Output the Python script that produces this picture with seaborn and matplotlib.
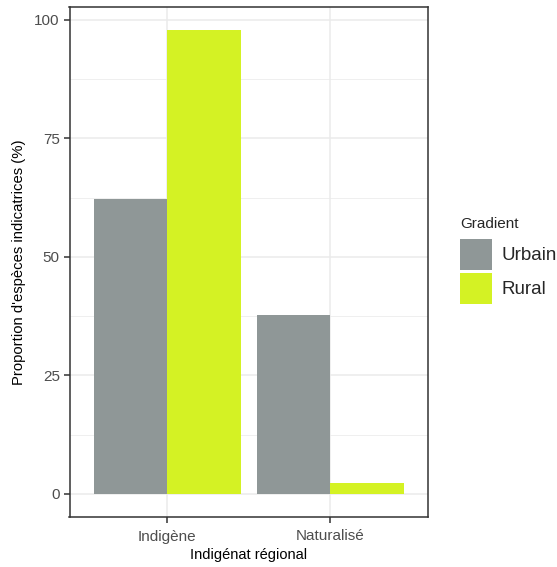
import matplotlib
matplotlib.use("Agg")
import matplotlib.pyplot as plt
import seaborn as sns
import pandas as pd
import numpy as np

categories = ["Indigène", "Naturalisé"]
gradients = ["Urbain", "Rural"]
urbain = [62.2, 37.8]
rural = [97.8, 2.2]
y_ticks = [0, 25, 50, 75, 100]
palette = {"Urbain": "#8f9797", "Rural": "#d4f224"}

df = pd.DataFrame({
    "cat": categories * 2,
    "grad": ["Urbain"] * 2 + ["Rural"] * 2,
    "val": urbain + rural,
})

sns.set_style("white")
plt.rcParams["font.family"] = ["Liberation Sans", "DejaVu Sans"]

fig = plt.figure(figsize=(5.57, 5.67), dpi=100)
ax = fig.add_axes([69.5 / 557, 1 - 517 / 567, (428 - 69.5) / 557, (517 - 7) / 567])

sns.barplot(data=df, x="cat", y="val", hue="grad", order=categories,
            hue_order=gradients, palette=palette, width=0.9, saturation=1,
            errorbar=None, linewidth=0, ax=ax, zorder=3)

ymax = max(max(urbain), max(rural))
ax.set_ylim(-0.05 * ymax, ymax * 1.05)
ax.set_xlim(-0.6, 1.6)
ax.set_yticks(y_ticks)
ax.set_yticks([12.5, 37.5, 62.5, 87.5], minor=True)
ax.grid(True, which="major", color="#ebebeb", linewidth=1.1, zorder=0)
ax.grid(True, which="minor", axis="y", color="#ebebeb", linewidth=0.55, zorder=0)
ax.set_axisbelow(True)
for s in ax.spines.values():
    s.set_color("#333333")
    s.set_linewidth(1.1)
    s.set_visible(True)
ax.tick_params(axis="both", which="major", bottom=True, left=True, direction="out",
               length=4, width=1.1, color="#333333",
               labelcolor="#4d4d4d", labelsize=11, pad=3)
ax.tick_params(axis="x", which="major", pad=5)
ax.tick_params(axis="both", which="minor", length=0)
ax.set_xlabel("Indigénat régional", fontsize=10.5, color="black", labelpad=3)
ax.set_ylabel("Proportion d'espèces indicatrices (%)", fontsize=10.7, color="black", labelpad=6)

handles, labels = ax.get_legend_handles_labels()
if ax.legend_:
    ax.legend_.remove()
leg = fig.legend(handles, labels, title="Gradient", loc="upper left",
                 bbox_to_anchor=(460 / 557, 1 - 217 / 567), frameon=False,
                 fontsize=13.5, title_fontsize=11, handlelength=1.7, handleheight=2.1,
                 handletextpad=0.5, labelspacing=0.2, borderpad=0, borderaxespad=0,
                 alignment="left")
leg._legend_box.sep = 0.45 * 13.5

fig.savefig("out.png", dpi=100)
